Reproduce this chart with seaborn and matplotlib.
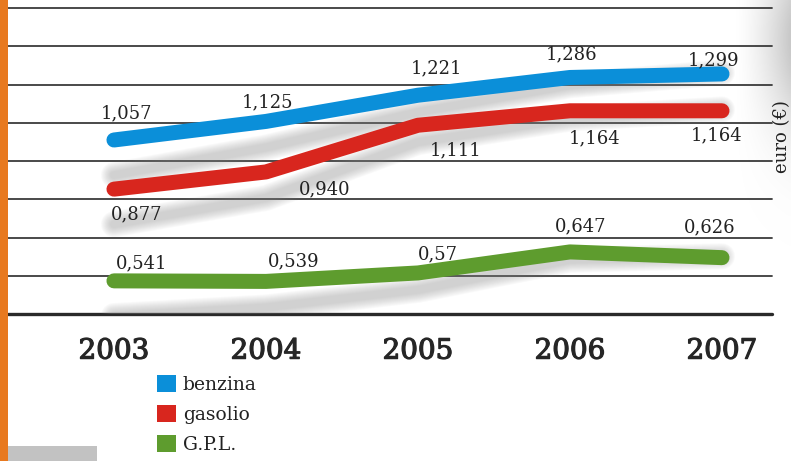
import numpy as np
import pandas as pd
import matplotlib
matplotlib.use("Agg")
import matplotlib.pyplot as plt
import matplotlib.patheffects as pe
from matplotlib.patches import Rectangle, Patch
from matplotlib.transforms import Affine2D
import seaborn as sns

# --- data ---------------------------------------------------------------
anni = [2003, 2004, 2005, 2006, 2007]
carburanti = ["benzina", "gasolio", "G.P.L."]
etichette_benzina = ["1,057", "1,125", "1,221", "1,286", "1,299"]
etichette_gasolio = ["0,877", "0,940", "1,111", "1,164", "1,164"]
etichette_gpl = ["0,541", "0,539", "0,57", "0,647", "0,626"]

def valori(etichette):
    return [float(s.replace(",", ".")) for s in etichette]

prezzi_benzina = valori(etichette_benzina)
prezzi_gasolio = valori(etichette_gasolio)
prezzi_gpl = valori(etichette_gpl)

colori = {"benzina": "#0B8FD9", "gasolio": "#D8261E", "G.P.L.": "#5E9C2E"}

# label offsets (pixels, right / up) relative to each point
off_benzina = [(13, 27), (2, 19), (19, 27), (2, 23), (-8, 14)]
off_gasolio = [(23, -25), (59, -17), (38, -25), (25, -28), (-5, -25)]
off_gpl = [(28, 17), (28, 20), (20, 19), (11, 26), (-12, 30)]

serie = {
    "benzina": (prezzi_benzina, etichette_benzina, off_benzina),
    "gasolio": (prezzi_gasolio, etichette_gasolio, off_gasolio),
    "G.P.L.": (prezzi_gpl, etichette_gpl, off_gpl),
}

df = pd.DataFrame(
    [(a, v, c) for c in carburanti for a, v in zip(anni, serie[c][0])],
    columns=["anno", "prezzo", "carburante"],
)

# --- figure -------------------------------------------------------------
sns.set_theme(style="white")
plt.rcParams["font.family"] = ["DejaVu Serif"]
plt.rcParams["text.color"] = "#222222"

W, H = 791, 461
fig = plt.figure(figsize=(W / 100, H / 100), dpi=100)
fig.patch.set_facecolor("white")

# soft grey glow in the upper right corner of the page
bg = fig.add_axes([0, 0, 1, 1], zorder=-1)
bg.set_axis_off()
xx, yy = np.meshgrid(np.linspace(0, 1, W), np.linspace(0, 1, H))
glow = np.clip((xx * W - 735) / 55, 0, 1) ** 1.5 * np.exp(-((yy * H - 40) / 90) ** 2)
rgba = np.zeros((H, W, 4))
rgba[..., :3] = 0.72
rgba[..., 3] = 0.75 * glow
bg.imshow(rgba, extent=(0, 1, 0, 1), origin="upper", aspect="auto")
bg.set_xlim(0, 1)
bg.set_ylim(0, 1)

ax = fig.add_axes([8 / W, 1 - 314 / H, (772 - 8) / W, (314 - 8) / H])
ax.set_xlim(2002.303, 2007.329)
ax.set_ylim(0.4196, 1.5405)
ax.set_facecolor("none")
for s in ax.spines.values():
    s.set_visible(False)

# horizontal rules
livelli = np.linspace(*ax.get_ylim(), 9)
for i, yv in enumerate(livelli):
    ax.axhline(yv, color="#2a2a2a" if i == 0 else "#3a3a3a",
               lw=2.4 if i == 0 else 1.3, clip_on=False, zorder=1)

# soft perspective shadows under the lines
px = 100 / 72
shear = Affine2D().from_values(1, 0.06, 0, 1, 0, -0.06 * 700)
for c in carburanti:
    for w in np.linspace(26, 8, 10):
        ax.plot(anni, serie[c][0], color="#8a8a8a", alpha=0.045, lw=w / px,
                solid_capstyle="round", solid_joinstyle="round",
                transform=ax.transData + shear, zorder=2)

sns.lineplot(data=df, x="anno", y="prezzo", hue="carburante",
             hue_order=carburanti, palette=colori, linewidth=15 / px,
             legend=False, sort=False, ax=ax, zorder=3)
for ln in ax.lines[-3:]:
    ln.set_solid_capstyle("round")
    ln.set_solid_joinstyle("round")

# value labels
for c in carburanti:
    vals, labs, offs = serie[c]
    for a, v, t, (dx, dy) in zip(anni, vals, labs, offs):
        ax.annotate(t, (a, v), xytext=(dx / px, dy / px),
                    textcoords="offset points", ha="center", va="center",
                    fontsize=13, color="#222222", zorder=4)

ax.set_xticks(anni)
ax.set_xticklabels([str(a) for a in anni], fontsize=20, color="#262626")
for t in ax.get_xticklabels():
    t.set_path_effects([pe.withStroke(linewidth=0.9, foreground="#262626")])
ax.set_yticks([])
ax.tick_params(axis="x", length=0, pad=17)
ax.set_xlabel("")
ax.set_ylabel("")

fig.text(782 / W, 1 - 137 / H, "euro (€)", rotation=90, ha="center",
         va="center", fontsize=13, color="#222222")

# legend
maniglie = [Patch(facecolor=colori[c], edgecolor="none", label=c) for c in carburanti]
fig.legend(handles=maniglie, loc="upper left",
           bbox_to_anchor=(157 / W, 1 - 375 / H), frameon=False,
           borderpad=0, borderaxespad=0, handlelength=1.0, handleheight=1.0,
           handletextpad=0.38, labelspacing=0.6, fontsize=13.5)

# page decorations
fig.patches.append(Rectangle((0, 0), 8 / W, 1, transform=fig.transFigure,
                             facecolor="#E8791F", edgecolor="none", zorder=5))
fig.patches.append(Rectangle((8 / W, 0), 89 / W, 15 / H, transform=fig.transFigure,
                             facecolor="#C2C2C2", edgecolor="none", zorder=5))

fig.savefig("out.png", dpi=100)
